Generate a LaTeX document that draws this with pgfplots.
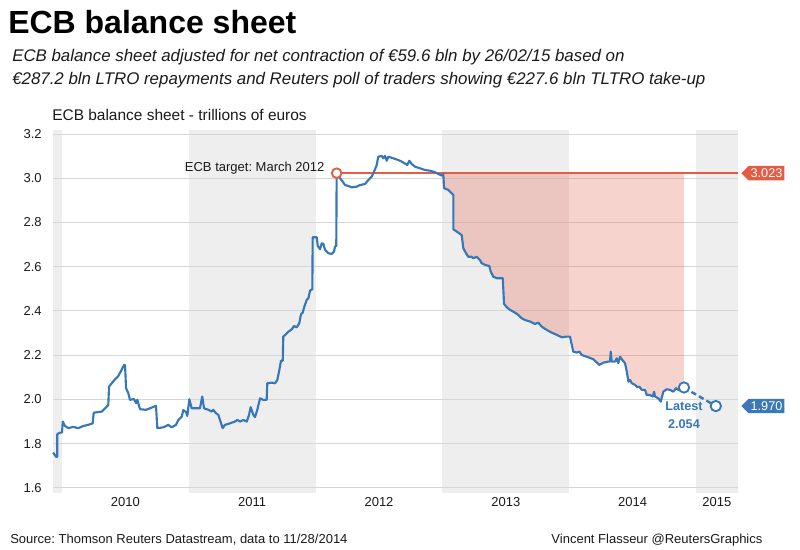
\documentclass[border=0pt]{standalone}
\usepackage{fontspec}
\setmainfont{Liberation Sans}
\usepackage{pgfplots}
\usepackage{pgfplotstable}
\pgfplotsset{compat=1.18}
\usepgfplotslibrary{fillbetween}
\usetikzlibrary{shapes.symbols}

\definecolor{ecbblue}{HTML}{3677BA}
\definecolor{tagblue}{HTML}{3A78B8}
\definecolor{ecbred}{HTML}{E35D45}
\definecolor{bandgray}{HTML}{EEEEEE}
\definecolor{gridgray}{HTML}{D6D6D6}
\definecolor{textdark}{HTML}{1A1A1A}

% ECB balance sheet, trillions of euros (decimal year, value)
\pgfplotstableread{
t v
2009.930 1.760
2009.953 1.741
2009.963 1.741
2009.963 1.843
2009.984 1.850
2010.000 1.850
2010.006 1.900
2010.024 1.880
2010.050 1.870
2010.087 1.876
2010.129 1.870
2010.168 1.880
2010.207 1.885
2010.242 1.892
2010.250 1.940
2010.313 1.945
2010.339 1.960
2010.365 1.975
2010.371 2.058
2010.392 2.073
2010.418 2.091
2010.444 2.106
2010.463 2.126
2010.489 2.156
2010.497 2.156
2010.505 2.051
2010.523 2.028
2010.536 1.998
2010.568 2.002
2010.584 1.983
2010.594 1.998
2010.615 1.956
2010.662 1.953
2010.694 1.960
2010.741 1.971
2010.752 1.870
2010.799 1.874
2010.838 1.885
2010.865 1.874
2010.899 1.885
2010.917 1.907
2010.944 1.922
2010.957 1.952
2010.978 1.943
2010.988 1.925
2011.004 2.001
2011.023 1.960
2011.088 1.960
2011.106 2.013
2011.120 1.960
2011.154 1.953
2011.181 1.945
2011.193 1.953
2011.214 1.938
2011.233 1.930
2011.246 1.907
2011.267 1.870
2011.285 1.885
2011.325 1.892
2011.364 1.900
2011.382 1.907
2011.404 1.900
2011.430 1.907
2011.457 1.900
2011.475 1.930
2011.488 1.965
2011.509 1.930
2011.522 1.920
2011.540 1.953
2011.562 2.005
2011.588 1.998
2011.614 1.998
2011.619 2.073
2011.654 2.076
2011.680 2.073
2011.698 2.088
2011.714 2.133
2011.727 2.175
2011.741 2.175
2011.745 2.284
2011.759 2.291
2011.785 2.306
2011.812 2.317
2011.830 2.332
2011.851 2.326
2011.871 2.344
2011.885 2.386
2011.898 2.392
2011.911 2.419
2011.930 2.450
2011.943 2.457
2011.956 2.492
2011.974 2.498
2011.977 2.733
2012.009 2.733
2012.017 2.694
2012.035 2.679
2012.048 2.706
2012.061 2.703
2012.074 2.676
2012.100 2.661
2012.127 2.658
2012.145 2.668
2012.153 2.691
2012.163 2.694
2012.166 3.023
2012.192 3.000
2012.214 2.984
2012.232 2.969
2012.258 2.965
2012.285 2.959
2012.324 2.962
2012.350 2.969
2012.390 2.974
2012.416 2.992
2012.442 3.007
2012.461 3.030
2012.482 3.060
2012.494 3.097
2012.521 3.101
2012.534 3.090
2012.547 3.101
2012.561 3.079
2012.573 3.097
2012.613 3.090
2012.652 3.082
2012.679 3.075
2012.723 3.060
2012.739 3.079
2012.758 3.064
2012.784 3.052
2012.823 3.045
2012.863 3.037
2012.902 3.034
2012.942 3.027
2012.968 3.019
2012.994 3.012
2013.007 3.019
2013.013 2.955
2013.047 2.947
2013.073 2.932
2013.086 2.924
2013.086 2.769
2013.125 2.754
2013.152 2.743
2013.165 2.683
2013.186 2.661
2013.204 2.645
2013.231 2.645
2013.243 2.638
2013.270 2.645
2013.296 2.630
2013.309 2.616
2013.336 2.608
2013.370 2.603
2013.381 2.578
2013.401 2.555
2013.428 2.548
2013.476 2.548
2013.486 2.432
2013.507 2.417
2013.533 2.405
2013.573 2.392
2013.599 2.382
2013.625 2.367
2013.651 2.359
2013.691 2.352
2013.730 2.341
2013.756 2.347
2013.783 2.329
2013.823 2.314
2013.862 2.302
2013.901 2.292
2013.941 2.281
2013.980 2.284
2014.006 2.284
2014.032 2.216
2014.059 2.212
2014.080 2.216
2014.099 2.201
2014.138 2.193
2014.190 2.182
2014.237 2.156
2014.269 2.166
2014.308 2.171
2014.322 2.171
2014.327 2.216
2014.335 2.171
2014.361 2.171
2014.375 2.186
2014.387 2.164
2014.401 2.193
2014.419 2.178
2014.440 2.164
2014.454 2.126
2014.467 2.080
2014.480 2.088
2014.493 2.073
2014.519 2.066
2014.537 2.055
2014.553 2.058
2014.572 2.043
2014.598 2.043
2014.611 2.020
2014.637 2.020
2014.659 2.013
2014.669 2.035
2014.677 2.013
2014.703 2.005
2014.722 1.990
2014.742 2.035
2014.769 2.046
2014.795 2.043
2014.821 2.035
2014.842 2.051
2014.860 2.043
2014.905 2.054
}\balance

% ECB target level from March 2012
\pgfplotstableread{
t v
2012.166 3.023
2015.331 3.023
}\target

% Projection to 26/02/15
\pgfplotstableread{
t v
2014.905 2.054
2015.156 1.970
}\projection

\newcommand{\smalltext}{\fontsize{9.75}{11.5}\selectfont}
\frenchspacing

\begin{document}
\begin{tikzpicture}
% page frame
\path (0,0) rectangle (600pt,412.5pt);

% Titles
\node[anchor=base west, inner sep=0pt, font=\bfseries\fontsize{24}{28}\selectfont, text=black]
  at (6pt,387pt) {ECB balance sheet};
\node[anchor=base west, inner sep=0pt, font=\itshape\fontsize{12.65}{15}\selectfont, text=textdark]
  at (9pt,366pt) {ECB balance sheet adjusted for net contraction of €59.6 bln by 26/02/15 based on};
\node[anchor=base west, inner sep=0pt, font=\itshape\fontsize{12.65}{15}\selectfont, text=textdark]
  at (9pt,349pt) {€287.2 bln LTRO repayments and Reuters poll of traders showing €227.6 bln TLTRO take-up};
\node[anchor=base west, inner sep=0pt, font=\fontsize{11.6}{13}\selectfont, text=textdark]
  at (39pt,321.75pt) {ECB balance sheet - trillions of euros};

% Footer
\node[anchor=base west, inner sep=0pt, font=\smalltext, text=textdark]
  at (7.5pt,5.25pt) {Source: Thomson Reuters Datastream, data to 11/28/2014};
\node[anchor=base east, inner sep=0pt, font=\smalltext, text=textdark]
  at (572pt,5.25pt) {Vincent Flasseur @ReutersGraphics};

\begin{axis}[
  at={(39.75pt,42.75pt)}, anchor=south west,
  scale only axis, width=513.75pt, height=272.25pt,
  xmin=2009.929, xmax=2015.331, ymin=1.577, ymax=3.218,
  set layers, clip=false,
  axis line style={draw=none},
  tick style={draw=none},
  major tick length=0pt,
  ytick={1.6,1.8,2.0,2.2,2.4,2.6,2.8,3.0,3.2},
  yticklabel style={/pgf/number format/fixed, /pgf/number format/fixed zerofill,
                    /pgf/number format/precision=1, xshift=-5pt},
  xtick={2010.5,2011.5,2012.5,2013.5,2014.5,2015.165},
  xticklabels={2010,2011,2012,2013,2014,2015},
  /pgf/number format/assume math mode=true,
  ticklabel style={font=\smalltext, text=textdark},
  ymajorgrids, xmajorgrids=false,
  major grid style={draw=gridgray, line width=0.7pt},
]

% alternating year bands
\begin{pgfonlayer}{axis background}
  \fill[bandgray] (axis cs:2009.929,1.577) rectangle (axis cs:2010,3.218);
  \fill[bandgray] (axis cs:2011,1.577) rectangle (axis cs:2012,3.218);
  \fill[bandgray] (axis cs:2013,1.577) rectangle (axis cs:2014,3.218);
  \fill[bandgray] (axis cs:2015,1.577) rectangle (axis cs:2015.331,3.218);
\end{pgfonlayer}

\addplot[name path=target, draw=ecbred, line width=1.7pt] table[x=t, y=v] {\target};
\addplot[name path=bal, draw=ecbblue, line width=1.6pt, line join=round] table[x=t, y=v] {\balance};
\addplot[fill=ecbred, fill opacity=0.27, draw=none]
  fill between[of=target and bal, soft clip={domain=2012.95:2014.905}];

\addplot[draw=ecbblue, line width=1.8pt, dash pattern=on 4pt off 2.5pt] table[x=t, y=v] {\projection};
\addplot[only marks, mark=*, mark size=3.9pt, mark options={fill=white, draw=ecbblue, line width=1.4pt}]
  table[x=t, y=v] {\projection};
\addplot[only marks, mark=*, mark size=3.6pt, mark options={fill=white, draw=ecbred, line width=1.4pt}]
  coordinates {(2012.166,3.023)};

\node[anchor=base east, inner sep=0pt, font=\smalltext, text=textdark]
  at ([xshift=-9pt, yshift=1pt]axis cs:2012.166,3.023) {ECB target: March 2012};
\node[anchor=north, align=center, inner sep=0pt, text=ecbblue,
      font=\bfseries\fontsize{9.5}{13.5}\selectfont]
  at ([yshift=-10.5pt]axis cs:2014.905,2.054) {Latest\\2.054};

\node[signal, signal to=west, fill=ecbred, text=white, font=\fontsize{9.5}{10}\selectfont,
      inner xsep=1.6pt, inner ysep=2pt, anchor=west]
  at ([xshift=2.25pt]axis cs:2015.331,3.023) {3.023};
\node[signal, signal to=west, fill=tagblue, text=white, font=\fontsize{9.5}{10}\selectfont,
      inner xsep=1.6pt, inner ysep=2pt, anchor=west]
  at ([xshift=2.25pt]axis cs:2015.331,1.970) {1.970};
\end{axis}
\end{tikzpicture}
\end{document}
